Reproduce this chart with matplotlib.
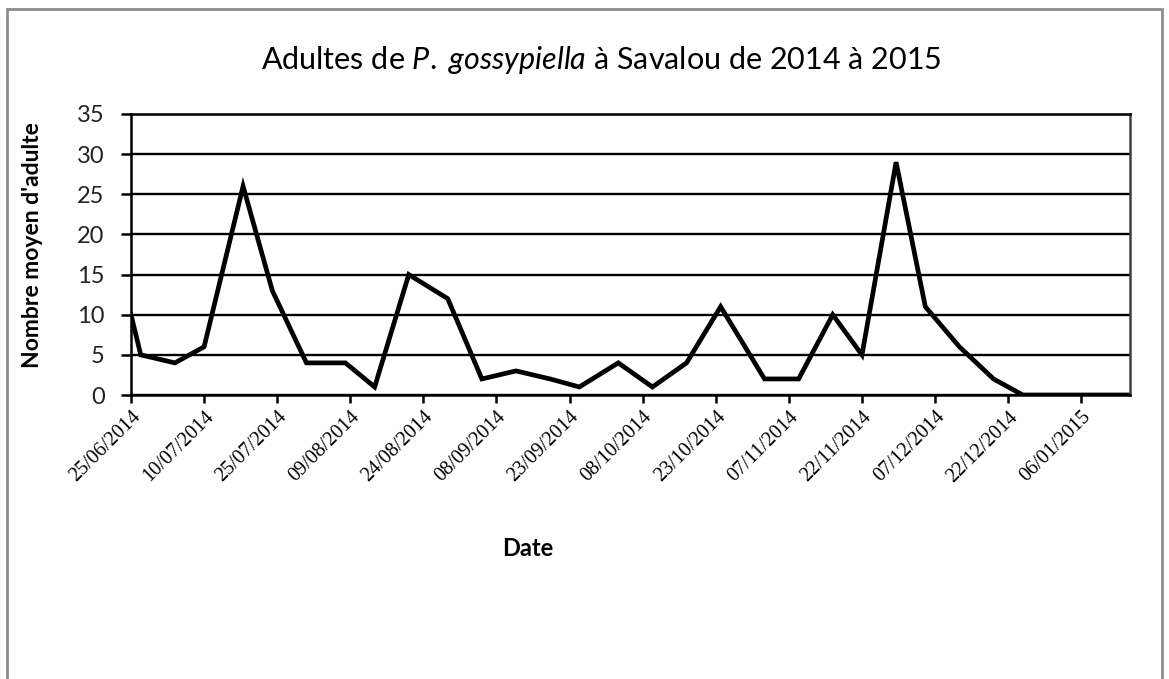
#Mean number of P. gossypiella adults at Savalou, 2014-2015

import numpy as np
import pandas as pd
import matplotlib
matplotlib.use('Agg')
import matplotlib.pyplot as plt
import matplotlib.dates as mdates
from matplotlib.patches import Rectangle

plt.rcParams['mathtext.fontset'] = 'custom'
plt.rcParams['mathtext.rm'] = 'Lato'
plt.rcParams['mathtext.it'] = 'Lato:italic'

#Input data
dates = ['25/06/2014', '27/06/2014', '04/07/2014', '10/07/2014', '18/07/2014',
         '24/07/2014', '31/07/2014', '08/08/2014', '14/08/2014', '21/08/2014',
         '29/08/2014', '05/09/2014', '12/09/2014', '19/09/2014', '25/09/2014',
         '03/10/2014', '10/10/2014', '17/10/2014', '24/10/2014', '02/11/2014',
         '09/11/2014', '16/11/2014', '22/11/2014', '29/11/2014', '05/12/2014',
         '12/12/2014', '19/12/2014', '25/12/2014', '01/01/2015', '08/01/2015',
         '16/01/2015']
adults = [10, 5, 4, 6, 26,
          13, 4, 4, 1, 15,
          12, 2, 3, 2, 1,
          4, 1, 4, 11, 2,
          2, 10, 5, 29, 11,
          6, 2, 0, 0, 0,
          0]
tick_start = '25/06/2014'
n_ticks = 14

x = pd.to_datetime(dates, format='%d/%m/%Y')
ticks = pd.date_range(pd.to_datetime(tick_start, format='%d/%m/%Y'), periods=n_ticks, freq='15D')

fig = plt.figure(figsize=(11.69, 6.79), dpi=100)
ax = fig.add_axes([131/1169, 1-395/679, (1130-131)/1169, (395-114)/679])

ax.plot(x, adults, color='black', lw=3.4, solid_joinstyle='miter')

ax.set_xlim(x[0], x[-1])
ax.set_ylim(0, 35)
ax.set_yticks(np.arange(0, 36, 5))
ax.set_xticks(ticks)
ax.xaxis.set_major_formatter(mdates.DateFormatter('%d/%m/%Y'))
ax.grid(axis='y', color='black', lw=1.7)
ax.set_axisbelow(True)

for s in ['left', 'bottom', 'top']:
    ax.spines[s].set_linewidth(1.8)
    ax.spines[s].set_color('black')
ax.spines['right'].set_linewidth(1.8)
ax.spines['right'].set_color('#404040')

ax.tick_params(axis='y', length=7, width=1.8, labelsize=17, pad=12)
ax.tick_params(axis='x', length=6, width=1.8, pad=3)
for lab in ax.get_yticklabels():
    lab.set_family('Lato')
    lab.set_color('#222222')
for lab in ax.get_xticklabels():
    lab.set_family('Liberation Serif')
    lab.set_fontsize(14.5)
    lab.set_rotation(45)
    lab.set_ha('right')
    lab.set_va('top')
    lab.set_rotation_mode('anchor')

fig.text(601/1169, 1-60/679, r'Adultes de $\it{P.}$ $\it{gossypiella}$ à Savalou de 2014 à 2015',
         ha='center', va='center', fontsize=22, family='Lato')
fig.text(33/1169, 1-245/679, "Nombre moyen d'adulte", rotation=90,
         ha='center', va='center', fontsize=16.5, family='Lato', weight='bold')
fig.text(528/1169, 1-549/679, 'Date', ha='center', va='center',
         fontsize=17, family='Lato', weight='bold')

#outer chart frame
fig.patches.append(Rectangle((7/1169, -0.05), (1162-7)/1169, 1.05-9/679,
                             transform=fig.transFigure, fill=False,
                             edgecolor='#8c8c8c', lw=2))

plt.savefig('out.png', dpi=100)
